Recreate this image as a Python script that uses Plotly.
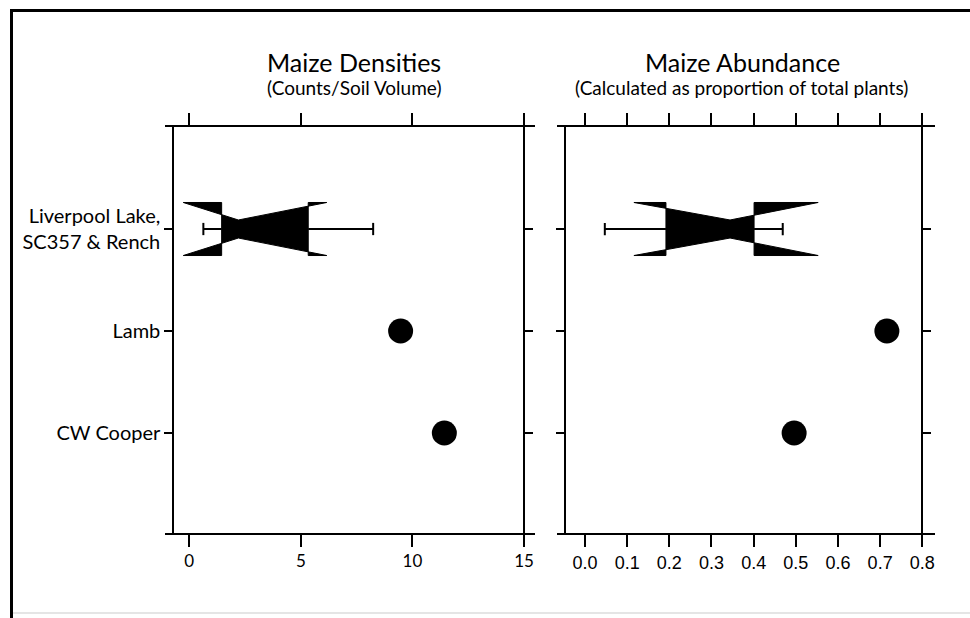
import plotly.graph_objects as go

W, H = 970, 618

# ---- data ----
sites = ["Liverpool Lake,<br>SC357 & Rench", "Lamb", "CW Cooper"]
# box stats: [whisker low, Q1, median, Q3, whisker high]
density_box = [0.63, 1.45, 2.2, 5.33, 8.24]
density_notch = [-0.27, 6.16]
density_points = [9.47, 11.43]      # Lamb, CW Cooper
abundance_box = [0.047, 0.192, 0.344, 0.401, 0.469]
abundance_notch = [0.116, 0.553]
abundance_points = [0.716, 0.496]   # Lamb, CW Cooper
density_ticks = [0, 5, 10, 15]
abundance_ticks = [0.0, 0.1, 0.2, 0.3, 0.4, 0.5, 0.6, 0.7, 0.8]

y_pos = [len(sites) - i for i in range(len(sites))]  # 3, 2, 1

def px(v, total):
    return v / total

def notch_polygon(stats, notch, yc, w=0.26, nf=0.34):
    lo_w, q1, med, q3, hi_w = stats
    nlo, nhi = notch
    xs = [q1, q1, nlo, med, nhi, q3, q3, nhi, med, nlo, q1]
    ys = [yc - w, yc + w, yc + w, yc + w * nf, yc + w, yc + w, yc - w, yc - w, yc - w * nf, yc - w, yc - w]
    return xs, ys

def whiskers(stats, yc, cap=0.06):
    lo_w, q1, med, q3, hi_w = stats
    xs = [lo_w, q1, None, q3, hi_w, None, lo_w, lo_w, None, hi_w, hi_w]
    ys = [yc, yc, None, yc, yc, None, yc - cap, yc + cap, None, yc - cap, yc + cap]
    return xs, ys

fig = go.Figure()

for stats, notch, pts, xa, ya in [
    (density_box, density_notch, density_points, "x", "y"),
    (abundance_box, abundance_notch, abundance_points, "x2", "y3"),
]:
    wx, wy = whiskers(stats, y_pos[0])
    fig.add_trace(go.Scatter(x=wx, y=wy, mode="lines", line=dict(color="black", width=2),
                             xaxis=xa, yaxis=ya, showlegend=False, hoverinfo="skip"))
    bx, by = notch_polygon(stats, notch, y_pos[0])
    fig.add_trace(go.Scatter(x=bx, y=by, mode="lines", fill="toself", fillcolor="black",
                             line=dict(color="black", width=1),
                             xaxis=xa, yaxis=ya, showlegend=False, hoverinfo="skip"))
    fig.add_trace(go.Scatter(x=pts, y=y_pos[1:], mode="markers",
                             marker=dict(color="black", size=25),
                             xaxis=xa, yaxis=ya, showlegend=False))

# geometry (pixels)
y_dom = [px(H - 533, H), px(H - 127, H)]
y_range = [0.02, 4.0]

# left panel x axis: 0 -> 189.3 px, 15 -> 524 px
l0, l15 = 189.3, 524.0
lppu = (l15 - l0) / 15
lx_dom = [165.0, 535.0]
lx_range = [(lx_dom[0] - l0) / lppu, (lx_dom[1] - l0) / lppu]
# right panel: 0 -> 585 px, 0.8 -> 922.3 px
r0, r8 = 585.0, 922.3
rppu = (r8 - r0) / 0.8
rx_dom = [556.7, 935.0]
rx_range = [(rx_dom[0] - r0) / rppu, (rx_dom[1] - r0) / rppu]

axis_common = dict(showgrid=False, zeroline=False, showline=True, linecolor="black",
                   linewidth=2, ticks="outside", tickcolor="black", tickwidth=2)

fig.update_layout(
    width=W, height=H,
    margin=dict(l=0, r=0, t=0, b=0),
    paper_bgcolor="white", plot_bgcolor="white",
    xaxis=dict(domain=[px(lx_dom[0], W), px(lx_dom[1], W)], range=lx_range,
               tickvals=density_ticks, ticktext=[str(t) for t in density_ticks],
               ticklen=12, mirror="ticks", anchor="y",
               tickfont=dict(family="Lato", size=17, color="black"), **axis_common),
    xaxis2=dict(domain=[px(rx_dom[0], W), px(rx_dom[1], W)], range=rx_range,
                tickvals=abundance_ticks, ticktext=[f"{t:.1f}" for t in abundance_ticks],
                ticklen=12, mirror="ticks", anchor="y3",
                tickfont=dict(family="Liberation Sans", size=18, color="black"), **axis_common),
    yaxis=dict(domain=y_dom, range=y_range, anchor="free", position=px(173.3, W), side="left",
               tickvals=y_pos, ticktext=sites, ticklen=8,
               tickfont=dict(family="Lato", size=20, color="black"), **axis_common),
    yaxis2=dict(domain=y_dom, range=y_range, anchor="free", overlaying="y", position=px(524.0, W),
                side="right", tickvals=y_pos, ticklen=8, showticklabels=False, **axis_common),
    yaxis3=dict(domain=y_dom, range=y_range, anchor="free", position=px(565.0, W), side="left",
                tickvals=y_pos, ticklen=8, showticklabels=False, **axis_common),
    yaxis4=dict(domain=y_dom, range=y_range, anchor="free", overlaying="y3", position=px(922.3, W),
                side="right", tickvals=y_pos, ticklen=8, showticklabels=False, **axis_common),
)

# dummy empty traces so overlay axes render
fig.add_trace(go.Scatter(x=[], y=[], xaxis="x", yaxis="y2", showlegend=False))
fig.add_trace(go.Scatter(x=[], y=[], xaxis="x2", yaxis="y4", showlegend=False))

annots = [
    ("Maize Densities", 353.5, 62, 25),
    ("(Counts/Soil Volume)", 353.5, 88, 19),
    ("Maize Abundance", 742.6, 62, 25),
    ("(Calculated as proportion of total plants)", 741.0, 88, 19),
]
for text, x, y, size in annots:
    fig.add_annotation(text=text, x=px(x, W), y=1 - px(y, H), xref="paper", yref="paper",
                       xanchor="center", yanchor="middle", showarrow=False,
                       font=dict(family="Lato", size=size, color="black"))

# outer frame
fig.add_shape(type="line", xref="paper", yref="paper", x0=px(10, W), x1=1,
              y0=1 - px(10.5, H), y1=1 - px(10.5, H), line=dict(color="black", width=3))
fig.add_shape(type="line", xref="paper", yref="paper", x0=px(11.5, W), x1=px(11.5, W),
              y0=0, y1=1 - px(9, H), line=dict(color="black", width=3))
fig.add_shape(type="line", xref="paper", yref="paper", x0=px(13, W), x1=1,
              y0=1 - px(613, H), y1=1 - px(613, H), line=dict(color="#dddddd", width=1.5))

fig.write_html("out.html")
